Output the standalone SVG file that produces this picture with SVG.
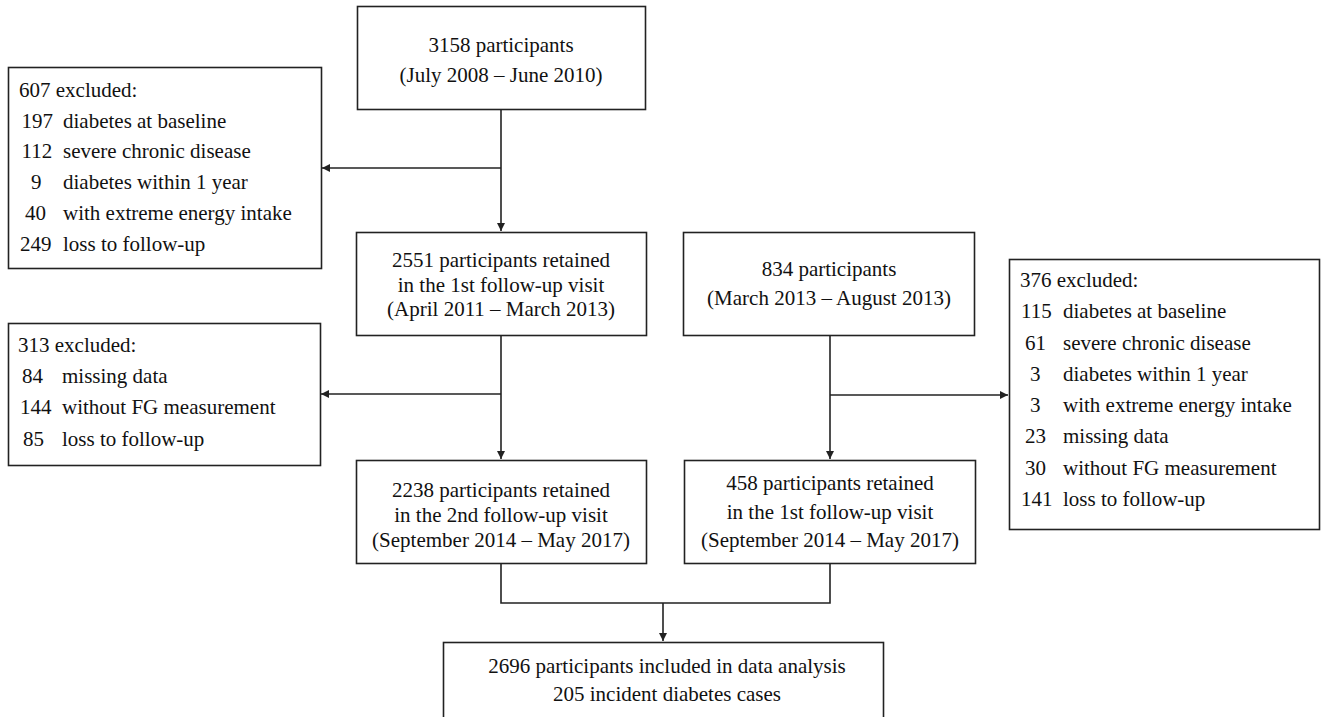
<svg xmlns="http://www.w3.org/2000/svg" width="1322" height="717" viewBox="0 0 1322 717">
<style>
rect.box{fill:#fff;stroke:#222;stroke-width:1.6}
text{font-family:"Liberation Serif","Times New Roman",serif;font-size:21px;fill:#111}
.c{text-anchor:middle}
.conn{fill:none;stroke:#222;stroke-width:1.6}
</style>
<defs>
<marker id="arr" viewBox="0 0 10 10" refX="10" refY="5" markerWidth="8" markerHeight="8" markerUnits="userSpaceOnUse" orient="auto">
<path d="M0,0 L10,5 L0,10 z" fill="#222"/>
</marker>
</defs>
<rect width="1322" height="717" fill="#fff"/>
<g id="connectors">
<line class="conn" x1="501" y1="109" x2="501" y2="231" marker-end="url(#arr)"/>
<line class="conn" x1="501" y1="168" x2="322" y2="168" marker-end="url(#arr)"/>
<line class="conn" x1="501" y1="336" x2="501" y2="459" marker-end="url(#arr)"/>
<line class="conn" x1="501" y1="394" x2="321" y2="394" marker-end="url(#arr)"/>
<line class="conn" x1="830" y1="336" x2="830" y2="459" marker-end="url(#arr)"/>
<line class="conn" x1="830" y1="395" x2="1008" y2="395" marker-end="url(#arr)"/>
<polyline class="conn" points="501,564 501,603 830,603 830,564"/>
<line class="conn" x1="663" y1="603" x2="663" y2="641" marker-end="url(#arr)"/>
</g>
<g id="n3158">
<rect class="box" x="357.5" y="6.5" width="288" height="103"/>
<text class="c" x="501" y="52">3158 participants</text>
<text class="c" x="501" y="82">(July 2008 – June 2010)</text>
</g>
<g id="ex607">
<rect class="box" x="8.5" y="67.5" width="313" height="201"/>
<text x="19" y="97">607 excluded:</text>
<text x="21.5" y="128">197</text><text x="63" y="128">diabetes at baseline</text>
<text x="21.5" y="158">112</text><text x="63" y="158">severe chronic disease</text>
<text x="31" y="189">9</text><text x="63" y="189">diabetes within 1 year</text>
<text x="25" y="220">40</text><text x="63" y="220">with extreme energy intake</text>
<text x="20" y="251">249</text><text x="63" y="251">loss to follow-up</text>
</g>
<g id="n2551">
<rect class="box" x="356.5" y="232.5" width="290" height="103"/>
<text class="c" x="501" y="267">2551 participants retained</text>
<text class="c" x="501" y="292">in the 1st follow-up visit</text>
<text class="c" x="501" y="316">(April 2011 – March 2013)</text>
</g>
<g id="n834">
<rect class="box" x="683.5" y="232.5" width="291" height="103"/>
<text class="c" x="829" y="276">834 participants</text>
<text class="c" x="829" y="305">(March 2013 – August 2013)</text>
</g>
<g id="ex313">
<rect class="box" x="8.5" y="323.5" width="312" height="142"/>
<text x="18" y="352">313 excluded:</text>
<text x="22" y="383">84</text><text x="62" y="383">missing data</text>
<text x="20" y="414">144</text><text x="62" y="414">without FG measurement</text>
<text x="23" y="446">85</text><text x="62" y="446">loss to follow-up</text>
</g>
<g id="ex376">
<rect class="box" x="1009.5" y="259.5" width="310" height="270"/>
<text x="1020" y="287">376 excluded:</text>
<text x="1021" y="318">115</text><text x="1063" y="318">diabetes at baseline</text>
<text x="1025" y="350">61</text><text x="1063" y="350">severe chronic disease</text>
<text x="1030" y="381">3</text><text x="1063" y="381">diabetes within 1 year</text>
<text x="1030" y="412">3</text><text x="1063" y="412">with extreme energy intake</text>
<text x="1025" y="443">23</text><text x="1063" y="443">missing data</text>
<text x="1025" y="475">30</text><text x="1063" y="475">without FG measurement</text>
<text x="1021" y="506">141</text><text x="1063" y="506">loss to follow-up</text>
</g>
<g id="n2238">
<rect class="box" x="356.5" y="460.5" width="290" height="103"/>
<text class="c" x="501" y="497">2238 participants retained</text>
<text class="c" x="501" y="522">in the 2nd follow-up visit</text>
<text class="c" x="501" y="547">(September 2014 – May 2017)</text>
</g>
<g id="n458">
<rect class="box" x="684.5" y="460.5" width="291" height="103"/>
<text class="c" x="830" y="490">458 participants retained</text>
<text class="c" x="830" y="519">in the 1st follow-up visit</text>
<text class="c" x="830" y="547">(September 2014 – May 2017)</text>
</g>
<g id="n2696">
<rect class="box" x="443.5" y="642.5" width="440" height="90"/>
<text class="c" x="667" y="673">2696 participants included in data analysis</text>
<text class="c" x="667" y="701">205 incident diabetes cases</text>
</g>
</svg>
